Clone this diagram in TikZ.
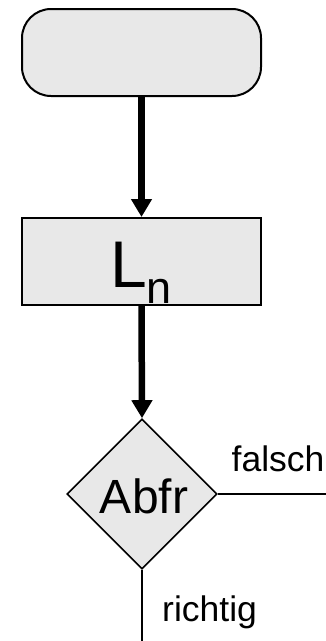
\documentclass[tikz,border=0pt]{standalone}
\usepackage{fontspec}
\setmainfont{Liberation Sans}
\usetikzlibrary{arrows.meta,shapes.geometric}

\definecolor{boxfill}{HTML}{E8E8E8}

\tikzset{
  flowbox/.style={draw=black, fill=boxfill, line width=2pt, inner sep=0pt},
  startbox/.style={flowbox, rounded corners=29pt, minimum width=239pt, minimum height=87pt},
  procbox/.style={flowbox, minimum width=239pt, minimum height=87pt},
  decision/.style={diamond, draw=black, fill=boxfill, line width=1.6pt, inner sep=0pt,
                   minimum width=150pt, minimum height=150pt},
  flowarrow/.style={line width=6.5pt, -{Triangle[width=20pt,length=18pt]}},
  branch/.style={line width=1.6pt},
  txt/.style={inner sep=0pt, anchor=base}
}

\begin{document}
\begin{tikzpicture}[x=1pt, y=-1pt]
  \useasboundingbox (0,0) rectangle (326,641);

  % start / process / decision
  \node[startbox] (start) at (141.5,52.5) {};
  \node[procbox]  (proc)  at (141.5,261.5) {};
  \node[decision] (dec)   at (142,494) {};

  % labels
  \node[txt] (ln) at (141,287)
    {\fontsize{66pt}{66pt}\selectfont L\raisebox{-16pt}{\fontsize{45pt}{45pt}\selectfont n}};
  \node[txt] (abfr) at (144,513) {\fontsize{48pt}{48pt}\selectfont Abfr};
  \node[txt, anchor=base west] (falsch) at (231.5,471.5) {\fontsize{35.5pt}{35.5pt}\selectfont falsch};
  \node[txt, anchor=base west] (richtig) at (162,621) {\fontsize{35.5pt}{35.5pt}\selectfont richtig};

  % connectors
  \draw[flowarrow] (start.south) -- (proc.north);
  \draw[flowarrow] (proc.south) -- (dec.north);

  \coordinate (falseEnd) at (326,494);
  \coordinate (trueEnd)  at (142,641);
  \draw[branch] (dec.east) -- (falseEnd);
  \draw[branch] (dec.south) -- (trueEnd);
\end{tikzpicture}
\end{document}
